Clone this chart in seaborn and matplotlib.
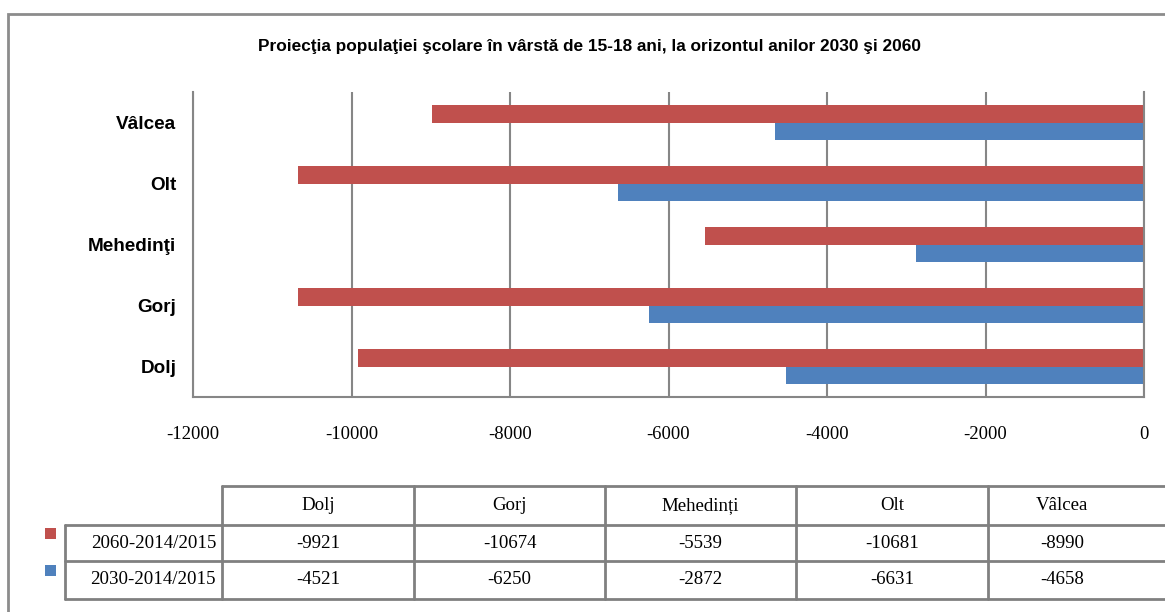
import matplotlib
matplotlib.use("Agg")
import matplotlib.pyplot as plt
import seaborn as sns
import pandas as pd
from matplotlib.lines import Line2D
from matplotlib.patches import Rectangle

# ---- data ----
counties_plot = ["Vâlcea", "Olt", "Mehedinţi", "Gorj", "Dolj"]
counties_table = ["Dolj", "Gorj", "Mehedinți", "Olt", "Vâlcea"]
series_names = ["2060-2014/2015", "2030-2014/2015"]
vals_2060 = [-9921, -10674, -5539, -10681, -8990]   # Dolj, Gorj, Mehedinti, Olt, Valcea
vals_2030 = [-4521, -6250, -2872, -6631, -4658]
x_ticks = [-12000, -10000, -8000, -6000, -4000, -2000, 0]
title = "Proiecţia populaţiei şcolare în vârstă de 15-18 ani, la orizontul anilor 2030 şi 2060"
colors = ["#C0504D", "#4F81BD"]

plot_names = ["Dolj", "Gorj", "Mehedinţi", "Olt", "Vâlcea"]
rows = []
for name, v60, v30 in zip(plot_names, vals_2060, vals_2030):
    rows.append({"judet": name, "serie": series_names[0], "val": v60})
    rows.append({"judet": name, "serie": series_names[1], "val": v30})
df = pd.DataFrame(rows)

sns.set_theme(style="white")
plt.rcParams["font.family"] = ["Liberation Sans", "DejaVu Sans"]

W, H = 1165, 612
fig = plt.figure(figsize=(W / 100, H / 100), dpi=100)
fig.patch.set_facecolor("white")

def fx(px):
    return px / W

def fy(py):
    return 1 - py / H

ax = fig.add_axes([fx(193), fy(397), fx(1144) - fx(193), fy(92) - fy(397)])
sns.barplot(data=df, y="judet", x="val", hue="serie", order=counties_plot,
            hue_order=series_names, palette=colors, width=0.574, orient="h",
            saturation=1, legend=False, ax=ax, edgecolor="none", linewidth=0,
            errorbar=None)

grey = "#868686"
ax.set_xlim(-12000, 0)
ax.set_xticks(x_ticks)
ax.set_xticklabels([str(t) for t in x_ticks], family="Liberation Serif", fontsize=13.4, color="black")
ax.tick_params(axis="x", length=0, pad=21)
ax.tick_params(axis="y", length=0, pad=12)
for lab in ax.get_yticklabels():
    lab.set_fontweight("bold")
    lab.set_fontsize(13.6)
    lab.set_color("black")
ax.set_xlabel("")
ax.set_ylabel("")
ax.grid(axis="x", color=grey, linewidth=1.5)
ax.set_axisbelow(True)
ax.spines["top"].set_visible(False)
for s in ["left", "right", "bottom"]:
    ax.spines[s].set_color(grey)
    ax.spines[s].set_linewidth(1.5)

# title
fig.text(fx(590), fy(46), title, ha="center", va="center", fontsize=12.4, fontweight="bold", color="black")

# outer frame (cropped at right/bottom)
fig.add_artist(Rectangle((fx(8), -0.1), 1.2, fy(14) + 0.1, transform=fig.transFigure,
                         fill=False, edgecolor="#8c8c8c", linewidth=2))

# data table
tc = "#808080"
def hline(y, x0, x1):
    fig.add_artist(Line2D([fx(x0), fx(x1)], [fy(y), fy(y)], color=tc, linewidth=2))
def vline(x, y0, y1):
    fig.add_artist(Line2D([fx(x), fx(x)], [fy(y0), fy(y1)], color=tc, linewidth=2))

col_edges = [222, 414, 605, 796, 988, 1180]
hline(486, 222, 1170)
hline(525, 65, 1170)
hline(561, 65, 1170)
hline(599, 65, 1170)
vline(65, 525, 599)
for x in col_edges[:-1]:
    vline(x, 486, 599)

tfont = dict(family="Liberation Serif", fontsize=13.6, color="black", va="center")
col_centers = [(col_edges[i] + col_edges[i + 1]) / 2 for i in range(4)] + [1062]
for cx, name in zip(col_centers, counties_table):
    fig.text(fx(cx), fy(506), name, ha="center", **tfont)
row_y = [543, 580]
for ry, sname, vals, c in zip(row_y, series_names, [vals_2060, vals_2030], colors):
    fig.text(fx(216), fy(ry), sname, ha="right", **tfont)
    fig.add_artist(Rectangle((fx(45), fy(ry - 4)), fx(11), fy(0) - fy(11),
                             transform=fig.transFigure, facecolor=c, edgecolor="none"))
    for cx, v in zip(col_centers, vals):
        fig.text(fx(cx), fy(ry), str(v), ha="center", **tfont)

fig.savefig("out.png", dpi=100)
